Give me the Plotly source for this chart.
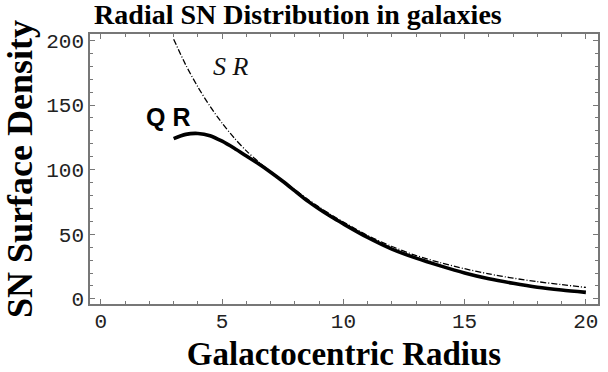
import plotly.graph_objects as go

# Galactocentric radius samples
radius_qr = [3.0, 3.5, 4.0, 4.5, 5.0, 5.5, 6.0, 6.5, 7.0, 7.5, 8.0, 8.5, 9.0, 9.5, 10.0, 11.0, 12.0, 13.0, 14.0, 15.0, 16.0, 17.0, 18.0, 19.0, 20.0]
density_qr = [124, 127.3, 128, 126.3, 122, 116.5, 110.5, 104.5, 98, 91, 83.5, 76, 69.5, 63.5, 58, 47.5, 38.5, 31.5, 25.5, 20, 15.5, 12, 9, 6.8, 5.0]

radius_sr = [3.0, 3.5, 4.0, 4.5, 5.0, 5.5, 6.0, 6.5, 7.0, 7.5, 8.0, 8.5, 9.0, 9.5, 10.0, 11.0, 12.0, 13.0, 14.0, 15.0, 16.0, 17.0, 18.0, 19.0, 20.0]
density_sr = [201, 181, 164, 149, 136, 124.5, 114.5, 106, 98.5, 91.5, 84.5, 77.5, 71, 65, 59.5, 49, 40.5, 33.5, 28, 23.3, 19.3, 16, 13.3, 11, 8.8]

x_ticks = [0, 5, 10, 15, 20]
y_ticks = [0, 50, 100, 150, 200]

fig = go.Figure()
fig.add_trace(go.Scatter(x=radius_sr, y=density_sr, mode="lines",
                         line=dict(color="black", width=1.3, dash="6px,2px,1px,2px", shape="spline", smoothing=0.8),
                         showlegend=False, hoverinfo="skip"))
fig.add_trace(go.Scatter(x=radius_qr, y=density_qr, mode="lines",
                         line=dict(color="black", width=3.6, shape="spline", smoothing=0.8),
                         showlegend=False, hoverinfo="skip"))

fig.add_annotation(x=5.37, y=180, text="<i>S R</i>", showarrow=False,
                   font=dict(family="Liberation Serif", size=26, color="#111"))
fig.add_annotation(x=2.75, y=141, text="<b>Q R</b>", showarrow=False,
                   font=dict(family="Liberation Sans", size=25, color="black"))

axis_common = dict(showline=True, linecolor="#777", linewidth=1.5, mirror="ticks",
                   ticks="inside", ticklen=5, tickcolor="#777", tickwidth=1,
                   showgrid=False, zeroline=False, automargin=False,
                   tickfont=dict(family="Liberation Mono", size=21, color="#222"))

fig.update_layout(
    width=608, height=372,
    margin=dict(l=90, r=10, t=34, b=68),
    paper_bgcolor="white", plot_bgcolor="white",
    title=dict(text="<b>Radial SN Distribution in galaxies</b>", x=0.49, xanchor="center",
               y=0.963, yanchor="middle",
               font=dict(family="Liberation Serif", size=28, color="black")),
    xaxis=dict(range=[-0.45, 20.5], tickvals=x_ticks, ticklabelstandoff=-3,
               minor=dict(ticks="inside", ticklen=3, dtick=1, tickcolor="#777"),
               title=dict(text="<b>Galactocentric Radius</b>", standoff=24,
                          font=dict(family="Liberation Serif", size=33, color="black")),
               **axis_common),
    yaxis=dict(range=[-4, 205], tickvals=y_ticks,
               minor=dict(ticks="inside", ticklen=3, dtick=10, tickcolor="#777"),
               title=dict(text="<b>SN Surface Density</b>", standoff=4,
                          font=dict(family="Liberation Serif", size=36, color="black")),
               **axis_common),
)

fig.write_html("out.html", config={"displayModeBar": False},
               post_script="document.body.style.margin='0px';")
